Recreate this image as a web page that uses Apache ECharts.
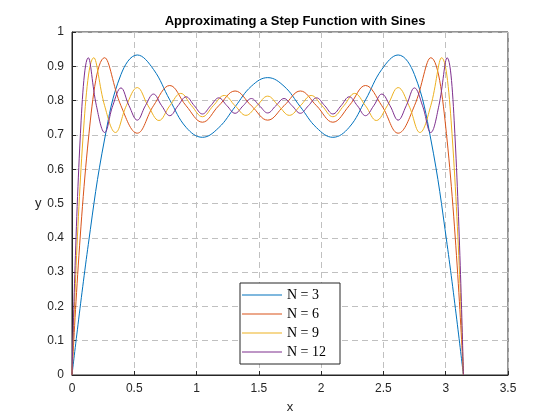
<!DOCTYPE html>
<html>
<head>
<meta charset="utf-8">
<script src="https://cdn.jsdelivr.net/npm/echarts@6/dist/echarts.min.js"></script>
<style>html,body{margin:0;padding:0;background:#fff}#main{width:560px;height:420px}</style>
</head>
<body>
<div id="main"></div>
<script>
// values
var x3 = [0,.131,.262,.393,.524,.654,.785,.916,1.047,1.178,1.309,1.440,1.571,1.702,1.833,1.963,2.094,2.225,2.356,2.487,2.618,2.749,2.880,3.011,3.142];
var y3 = [0,.381,.688,.876,.933,.891,.802,.722,.693,.721,.782,.842,.867,.842,.782,.721,.693,.722,.802,.891,.933,.876,.688,.381,0];
var x6 = x3;
var y6 = [0,.685,.925,.785,.705,.785,.844,.785,.737,.785,.828,.785,.743,.785,.828,.785,.737,.785,.844,.785,.705,.785,.925,.685,0];
var x9 = [0,.087,.175,.262,.349,.436,.524,.611,.698,.785,.873,.960,1.047,1.134,1.222,1.309,1.396,1.484,1.571,1.658,1.745,1.833,1.920,2.007,2.094,2.182,2.269,2.356,2.443,2.531,2.618,2.705,2.793,2.880,2.967,3.054,3.142];
var y9 = [0,.685,.925,.785,.707,.785,.838,.785,.742,.785,.821,.785,.753,.785,.815,.785,.757,.785,.813,.785,.757,.785,.815,.785,.753,.785,.821,.785,.742,.785,.838,.785,.707,.785,.925,.685,0];
var x12 = [0,.065,.131,.196,.262,.327,.393,.458,.524,.589,.654,.720,.785,.851,.916,.982,1.047,1.113,1.178,1.244,1.309,1.374,1.440,1.505,1.571,1.636,1.702,1.767,1.833,1.898,1.963,2.029,2.094,2.160,2.225,2.291,2.356,2.422,2.487,2.553,2.618,2.683,2.749,2.814,2.880,2.945,3.011,3.076,3.142];
var y12 = [0,.685,.925,.785,.707,.785,.837,.785,.743,.785,.819,.785,.756,.785,.811,.785,.761,.785,.808,.785,.763,.785,.806,.785,.764,.785,.806,.785,.763,.785,.808,.785,.761,.785,.811,.785,.756,.785,.819,.785,.743,.785,.837,.785,.707,.785,.925,.685,0];
var names = ['N = 3','N = 6','N = 9','N = 12'];
var colors = ['#0072BD','#D95319','#EDB120','#7E2F8E'];

var myChart = echarts.init(document.getElementById('main'));
function pairs(xs, ys){
	var d = [];
	for(var i=0;i<xs.length;i++){ d.push([xs[i], ys[i]]); }
	return d;
}
var sets = [[x3,y3],[x6,y6],[x9,y9],[x12,y12]];
var series = [];
for(var i=0;i<sets.length;i++){
	series.push({ name:names[i], type:'line', smooth:0.4, showSymbol:false,
		lineStyle:{width:1, color:colors[i]}, itemStyle:{color:colors[i]},
		data:pairs(sets[i][0], sets[i][1]) });
}
var axisCommon = {
	axisLine:{show:true, lineStyle:{color:'#262626'}},
	axisTick:{inside:true, length:4, lineStyle:{color:'#262626'}},
	axisLabel:{color:'#262626', fontSize:12, fontFamily:'Liberation Sans'},
	splitLine:{show:true, lineStyle:{type:[6,4], color:'#c0c0c0'}}
};
var option = {
	animation:false,
	color:colors,
	title:{ text:'Approximating a Step Function with Sines', left:290, top:10, textAlign:'center',
		textStyle:{fontSize:13, fontWeight:'bold', color:'#000', fontFamily:'Liberation Sans'} },
	legend:{ orient:'vertical', left:240, top:283, itemWidth:40, itemHeight:1, itemGap:5,
		backgroundColor:'#fff', borderColor:'#262626', borderWidth:1, padding:[5,14,5,2],
		icon:'rect', textStyle:{fontFamily:'Liberation Serif', fontSize:14, color:'#000'}, data:names },
	grid:{ left:72, right:52, top:32, bottom:45, show:true, borderColor:'#262626', borderWidth:1 },
	xAxis: echarts.util.merge({ type:'value', min:0, max:3.5, interval:0.5, name:'x', nameLocation:'middle', nameGap:26,
		nameTextStyle:{fontSize:13, color:'#262626', fontFamily:'Liberation Sans'} }, axisCommon),
	yAxis: echarts.util.merge({ type:'value', min:0, max:1, interval:0.1, name:'y', nameLocation:'middle', nameGap:30, nameRotate:0,
		nameTextStyle:{fontSize:13, color:'#262626', fontFamily:'Liberation Sans'} }, axisCommon),
	series:series
};
myChart.setOption(option);
</script>
</body>
</html>
